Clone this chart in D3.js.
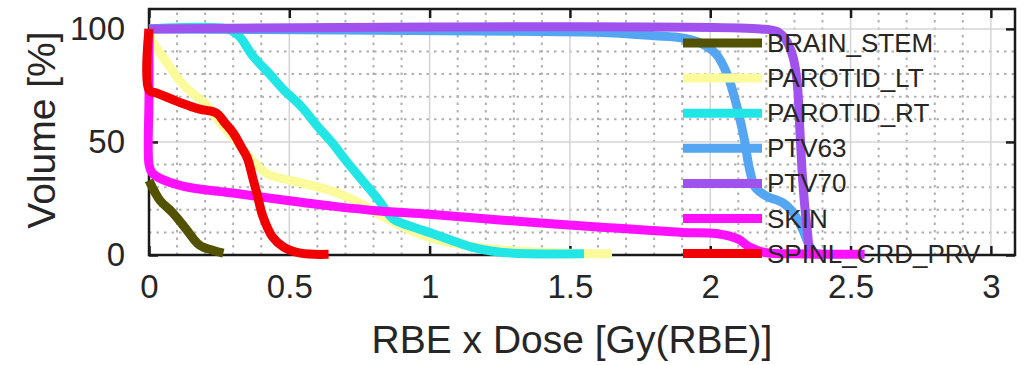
<!DOCTYPE html>
<head>
  <meta charset="utf-8">
  <script src="https://cdn.jsdelivr.net/npm/d3@7"></script>
  <style>
    body { margin: 0; background: #fff; }
    text {
      font-family: "Liberation Sans", Arial, sans-serif;
      fill: #262626;
    }
    text.tickLabel { font-size: 33px; }
    text.axisLabel { font-size: 39px; }
    text.legendText { font-size: 26px; }
    .minor { stroke: #b0b0b0; stroke-width: 2; stroke-dasharray: 2.5, 5; }
    .major { stroke: #d4d4d4; stroke-width: 1.5; }
    .curve { fill: none; stroke-width: 9; stroke-linejoin: round; stroke-linecap: butt; }
  </style>
</head>

<body>
  <svg width="1031" height="365"></svg>
  <script>
    // series names and colours (legend order)
    const names = ["BRAIN_STEM", "PAROTID_LT", "PAROTID_RT", "PTV63", "PTV70", "SKIN", "SPINL_CRD_PRV"];
    const colors = ["#525200", "#fbfb9c", "#22e6e6", "#55a6f2", "#a052ee", "#ff10ff", "#f00000"];

    // DVH curves, [dose Gy(RBE), volume %]
    const brainStem = [[0, 33], [0.02, 28], [0.04, 24], [0.086, 18.5], [0.135, 11], [0.18, 4.4], [0.23, 2], [0.265, 0.8]];
    const parotidLt = [[0, 100], [0.01, 95], [0.03, 91], [0.07, 84], [0.11, 77], [0.15, 72], [0.2, 67], [0.25, 59],
      [0.3, 52], [0.36, 43], [0.42, 36], [0.54, 32], [0.66, 28], [0.75, 23], [0.85, 16], [0.95, 10], [1.05, 6],
      [1.2, 3], [1.35, 1.5], [1.5, 0.8], [1.65, 0.5]];
    const parotidRt = [[0, 100], [0.28, 100], [0.32, 97], [0.37, 88], [0.43, 80], [0.48, 73], [0.54, 66], [0.6, 57],
      [0.65, 50], [0.7, 42], [0.76, 33], [0.82, 24], [0.87, 16], [0.95, 12], [1.01, 9.5], [1.1, 5.5], [1.15, 3.5],
      [1.22, 1.8], [1.3, 0.8], [1.55, 0.5]];
    const ptv63 = [[0, 100], [1.3, 99], [1.6, 98.5], [1.8, 97], [1.9, 96], [1.96, 94], [2.02, 89], [2.06, 80],
      [2.09, 68], [2.12, 52], [2.14, 38], [2.16, 30], [2.2, 26], [2.26, 23], [2.3, 18], [2.33, 11], [2.35, 5],
      [2.37, 1], [2.4, 0.3]];
    const ptv70 = [[0, 100], [2.18, 100], [2.24, 98.7], [2.27, 95], [2.295, 87.6], [2.31, 76], [2.32, 54],
      [2.33, 32], [2.345, 12], [2.36, 1], [2.38, 0.5]];
    const skin = [[0, 100], [0, 70], [0, 40], [0.01, 36.5], [0.03, 34.5], [0.12, 30.5], [0.3, 27.4], [0.48, 24.3],
      [0.66, 21.5], [0.82, 19.5], [1.0, 18], [1.25, 15.5], [1.6, 12.4], [1.9, 10], [2.02, 9.5], [2.1, 7],
      [2.14, 3.5], [2.2, 1], [2.3, 0.5], [2.55, 0.3]];
    const spinlCrdPrv = [[0, 100], [0, 73], [0.03, 71.5], [0.08, 69], [0.12, 67], [0.18, 64.5], [0.24, 62.8],
      [0.27, 58.5], [0.3, 54], [0.33, 47.5], [0.35, 43], [0.37, 34], [0.385, 27], [0.406, 17], [0.44, 8],
      [0.48, 3.5], [0.54, 0.8], [0.64, 0.3]];
    const series = [brainStem, parotidLt, parotidRt, ptv63, ptv70, skin, spinlCrdPrv];

    // ticks
    const xTicks = [0, 0.5, 1, 1.5, 2, 2.5, 3];
    const yTicks = [0, 50, 100];
    const xMinor = d3.range(0.1, 3.05, 0.1);
    const yMinor = d3.range(10, 101, 10);

    const margin = { top: 9, right: 16, bottom: 110, left: 149 };
    const width = 1031, height = 365;
    const svg = d3.select("svg");

    let x = d3.scaleLinear().domain([0, 3.086]).range([margin.left, width - margin.right]);
    let y = d3.scaleLinear().domain([0, 108.8]).range([height - margin.bottom, margin.top]);

    // grid: dotted minor, solid major
    svg.append("g").selectAll("line")
      .data(xMinor.filter(d => Math.abs(d * 2 - Math.round(d * 2)) > 0.01))
      .enter().append("line").attr("class", "minor")
      .attr("x1", d => x(d)).attr("x2", d => x(d))
      .attr("y1", y.range()[0]).attr("y2", y.range()[1]);
    svg.append("g").selectAll("line")
      .data(yMinor.filter(d => d % 50 != 0))
      .enter().append("line").attr("class", "minor")
      .attr("y1", d => y(d)).attr("y2", d => y(d))
      .attr("x1", x.range()[0]).attr("x2", x.range()[1]);
    svg.append("g").selectAll("line")
      .data(xTicks.slice(1))
      .enter().append("line").attr("class", "major")
      .attr("x1", d => x(d)).attr("x2", d => x(d))
      .attr("y1", y.range()[0]).attr("y2", y.range()[1]);
    svg.append("g").selectAll("line")
      .data(yTicks.slice(1))
      .enter().append("line").attr("class", "major")
      .attr("y1", d => y(d)).attr("y2", d => y(d))
      .attr("x1", x.range()[0]).attr("x2", x.range()[1]);

    // axes, ticks inside, mirrored on top / right
    const tickLen = 9;
    const xAxisB = d3.axisBottom(x).tickValues(xTicks).tickSize(-tickLen).tickPadding(20).tickFormat(d3.format("~g"));
    const xAxisT = d3.axisTop(x).tickValues(xTicks).tickSize(-tickLen).tickFormat("");
    const yAxisL = d3.axisLeft(y).tickValues(yTicks).tickSize(-tickLen).tickPadding(24);
    const yAxisR = d3.axisRight(y).tickValues(yTicks).tickSize(-tickLen).tickFormat("");

    function styleAxis(g) {
      g.select(".domain").remove();
      g.selectAll(".tick line").attr("stroke", "#1a1a1a").attr("stroke-width", 2.5);
      g.selectAll(".tick text").attr("class", "tickLabel").attr("fill", null).attr("font-size", null)
        .attr("font-family", null);
    }
    svg.append("g").attr("transform", `translate(0,${y(0)})`).call(xAxisB).call(styleAxis);
    svg.append("g").attr("transform", `translate(0,${margin.top})`).call(xAxisT).call(styleAxis);
    svg.append("g").attr("transform", `translate(${margin.left},0)`).call(yAxisL).call(styleAxis);
    svg.append("g").attr("transform", `translate(${x.range()[1]},0)`).call(yAxisR).call(styleAxis);

    // box
    svg.append("rect")
      .attr("x", x.range()[0]).attr("y", y.range()[1])
      .attr("width", x.range()[1] - x.range()[0]).attr("height", y.range()[0] - y.range()[1])
      .attr("fill", "none").attr("stroke", "#1a1a1a").attr("stroke-width", 2.5);

    // curves, smoothed through the read points
    const line = d3.line().x(d => x(d[0])).y(d => y(d[1])).curve(d3.curveCatmullRom.alpha(0.5));
    svg.append("g").selectAll("path")
      .data(series)
      .enter().append("path").attr("class", "curve")
      .attr("d", line)
      .attr("stroke", (d, i) => colors[i]);

    // axis labels
    svg.append("text").attr("class", "axisLabel")
      .attr("x", (x.range()[0] + x.range()[1]) / 2 - 10).attr("y", 353)
      .attr("text-anchor", "middle")
      .text("RBE x Dose [Gy(RBE)]");
    svg.append("text").attr("class", "axisLabel")
      .attr("transform", `translate(55,${(y.range()[0] + y.range()[1]) / 2 - 2}) rotate(-90)`)
      .attr("text-anchor", "middle")
      .text("Volume [%]");

    // legend (no box)
    const legend = svg.append("g").selectAll("g")
      .data(names)
      .enter().append("g")
      .attr("transform", (d, i) => `translate(683,${43 + i * 35.1})`);
    legend.append("line")
      .attr("x1", 0).attr("x2", 79).attr("y1", 0).attr("y2", 0)
      .attr("stroke", (d, i) => colors[i]).attr("stroke-width", 9);
    legend.append("text").attr("class", "legendText")
      .attr("x", 84).attr("y", 9)
      .text(d => d);
  </script>
</body>
